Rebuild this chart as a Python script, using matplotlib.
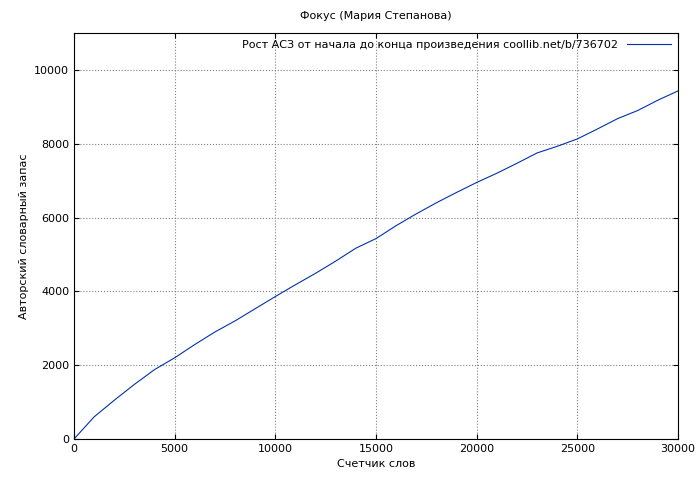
import matplotlib
matplotlib.use('Agg')
import matplotlib.pyplot as plt

# word counter vs vocabulary size
words = [0, 1000, 2000, 3000, 4000, 5000, 6000, 7000, 8000, 9000, 10000,
         11000, 12000, 13000, 14000, 15000, 16000, 17000, 18000, 19000, 20000,
         21000, 22000, 23000, 24000, 25000, 26000, 27000, 28000, 29000, 30000]
vocab = [0, 600, 1050, 1480, 1880, 2200, 2560, 2900, 3200, 3530, 3860,
         4180, 4490, 4820, 5170, 5430, 5780, 6100, 6400, 6680, 6950,
         7200, 7470, 7750, 7930, 8130, 8400, 8680, 8900, 9180, 9430]

matplotlib.rc('font', size=8)
fig = plt.figure(figsize=(7, 4.8), dpi=100)
ax = fig.add_axes([74/700, 1-439/480, 604/700, 406/480])
ax.plot(words, vocab, color='#0033aa', lw=0.8,
        label='Рост АСЗ от начала до конца произведения coollib.net/b/736702')
ax.set_xlim(0, 30000)
ax.set_ylim(0, 11000)
ax.set_xticks(range(0, 30001, 5000))
ax.set_yticks(range(0, 10001, 2000))
ax.grid(color='gray', linestyle=':', linewidth=0.8)
ax.tick_params(direction='in', top=True, right=True)
ax.set_xlabel('Счетчик слов')
ax.set_ylabel('Авторский словарный запас')
fig.text(0.537, 1-16/480, 'Фокус (Мария Степанова)', ha='center', va='center', fontsize=8)
leg = ax.legend(loc='upper right', frameon=False, markerfirst=False,
                handlelength=4, borderaxespad=0.2)
fig.savefig('out.png', dpi=100)
